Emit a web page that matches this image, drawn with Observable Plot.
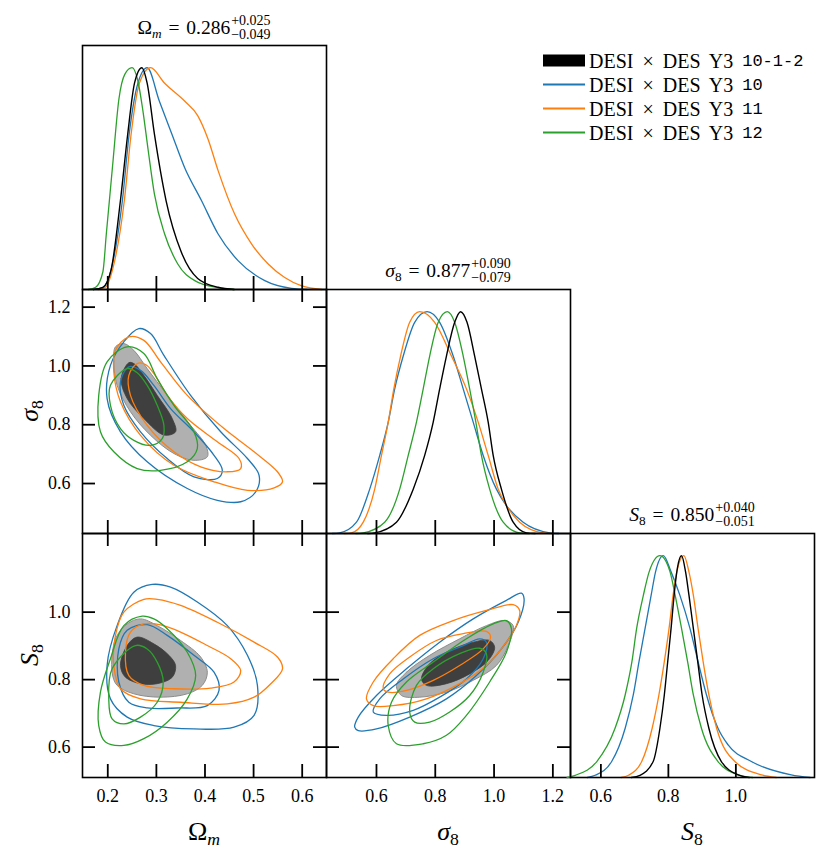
<!DOCTYPE html>
<html><head><meta charset="utf-8">
<script src="https://cdn.jsdelivr.net/npm/d3@7"></script>
<script src="https://cdn.jsdelivr.net/npm/@observablehq/plot@0.6"></script>
<style>
body{margin:0;background:#fff}
#root{position:relative;width:830px;height:859px;background:#fff;font-family:"Liberation Serif",serif;color:#000;overflow:hidden}
.abs{position:absolute;white-space:nowrap}
.ttl{display:flex;align-items:center;font-size:19.5px;transform:translate(-50%,-50%);word-spacing:2px}
.pm{display:inline-flex;flex-direction:column;font-size:14px;line-height:1.0;margin-left:1px}
.lab{font-size:26px;transform:translate(-50%,-50%)}
.ylab{font-size:26px;transform:translate(-50%,-50%) rotate(-90deg)}
.sb{font-size:0.68em;position:relative;top:0.3em}
.leg{font-size:20px;display:flex;align-items:center;transform:translateY(-50%);word-spacing:4px}
.sw{width:42px;margin-right:4px}
.mono{font-family:"Liberation Mono",monospace;font-size:17px;margin-left:9px}
</style></head>
<body><div id="root"></div>
<script>
// ---------- tick values ----------
const omTicks = [0.2, 0.3, 0.4, 0.5, 0.6];
const s8Ticks = [0.6, 0.8, 1.0, 1.2];   // sigma_8
const S8Ticks = [0.6, 0.8, 1.0];        // S_8
const omDomain = [0.148, 0.650];
const s8Domain = [0.43, 1.26];
const S8Domain = [0.51, 1.233];
const dDomain = [0, 1.1];

// ---------- series ----------
const seriesNames = ["DESI × DES Y3", "DESI × DES Y3", "DESI × DES Y3", "DESI × DES Y3"];
const seriesTags = ["10-1-2", "10", "11", "12"];
const seriesColors = ["#000000", "#1f77b4", "#ff7f0e", "#2ca02c"];

// ---------- 1D marginals [value, density] ----------
const om1dBlack = [[0.17,0],[0.19,0.01],[0.207,0.09],[0.226,0.40],[0.241,0.70],[0.255,0.93],[0.270,1.0],[0.281,0.93],[0.296,0.70],[0.320,0.40],[0.351,0.17],[0.385,0.05],[0.427,0.01],[0.46,0]];
const om1dBlue = [[0.17,0],[0.19,0.01],[0.208,0.10],[0.230,0.40],[0.244,0.70],[0.262,0.93],[0.281,1.0],[0.306,0.85],[0.332,0.70],[0.358,0.55],[0.393,0.40],[0.427,0.25],[0.468,0.13],[0.523,0.04],[0.578,0.005],[0.61,0]];
const om1dOrange = [[0.18,0],[0.195,0.01],[0.211,0.10],[0.234,0.40],[0.248,0.70],[0.265,0.93],[0.288,1.0],[0.317,0.93],[0.358,0.85],[0.385,0.784],[0.406,0.68],[0.427,0.536],[0.461,0.34],[0.496,0.205],[0.530,0.115],[0.564,0.054],[0.599,0.016],[0.64,0]];
const om1dGreen = [[0.16,0],[0.175,0.01],[0.19,0.08],[0.197,0.25],[0.210,0.56],[0.223,0.86],[0.235,0.97],[0.250,1.0],[0.262,0.94],[0.272,0.81],[0.283,0.63],[0.296,0.43],[0.317,0.25],[0.344,0.115],[0.379,0.04],[0.427,0.008],[0.46,0]];

const s81dBlack = [[0.57,0],[0.594,0.003],[0.668,0.051],[0.725,0.2],[0.764,0.352],[0.793,0.502],[0.815,0.652],[0.838,0.80],[0.866,0.952],[0.886,1.0],[0.908,0.952],[0.934,0.80],[0.957,0.652],[0.980,0.502],[0.997,0.352],[1.025,0.2],[1.065,0.051],[1.110,0.003],[1.14,0]];
const s81dBlue = [[0.45,0],[0.475,0.003],[0.532,0.051],[0.577,0.2],[0.611,0.352],[0.640,0.502],[0.662,0.652],[0.691,0.80],[0.730,0.952],[0.772,1.0],[0.815,0.952],[0.861,0.80],[0.895,0.652],[0.929,0.502],[0.963,0.352],[1.008,0.2],[1.042,0.126],[1.099,0.051],[1.19,0.003],[1.22,0]];
const s81dOrange = [[0.49,0],[0.515,0.003],[0.555,0.051],[0.594,0.2],[0.617,0.352],[0.640,0.502],[0.659,0.652],[0.682,0.80],[0.713,0.952],[0.747,1.0],[0.798,0.952],[0.855,0.80],[0.906,0.652],[0.946,0.502],[0.980,0.352],[1.014,0.2],[1.042,0.126],[1.087,0.051],[1.167,0.003],[1.2,0]];
const s81dGreen = [[0.53,0],[0.555,0.003],[0.628,0.051],[0.679,0.2],[0.708,0.352],[0.736,0.502],[0.759,0.652],[0.781,0.80],[0.810,0.952],[0.841,1.0],[0.866,0.952],[0.895,0.80],[0.917,0.652],[0.938,0.502],[0.957,0.352],[0.985,0.2],[1.031,0.051],[1.087,0.003],[1.12,0]];

const S81dBlack = [[0.69,0],[0.716,0.01],[0.755,0.072],[0.775,0.222],[0.788,0.372],[0.798,0.522],[0.808,0.672],[0.817,0.822],[0.825,0.927],[0.839,1.0],[0.851,0.927],[0.861,0.822],[0.874,0.672],[0.887,0.522],[0.900,0.372],[0.920,0.222],[0.957,0.072],[1.007,0.012],[1.04,0]];
const S81dBlue = [[0.56,0],[0.583,0.01],[0.632,0.072],[0.672,0.222],[0.696,0.372],[0.713,0.522],[0.731,0.672],[0.749,0.822],[0.762,0.927],[0.785,1.0],[0.808,0.927],[0.834,0.822],[0.864,0.672],[0.888,0.522],[0.913,0.372],[0.947,0.222],[0.977,0.147],[1.046,0.072],[1.164,0.012],[1.22,0]];
const S81dOrange = [[0.66,0],[0.682,0.01],[0.721,0.072],[0.752,0.222],[0.772,0.372],[0.788,0.522],[0.802,0.672],[0.814,0.822],[0.825,0.927],[0.846,1.0],[0.861,0.927],[0.874,0.822],[0.888,0.672],[0.903,0.522],[0.920,0.372],[0.943,0.222],[0.997,0.072],[1.076,0.012],[1.12,0]];
const S81dGreen = [[0.50,0],[0.524,0.01],[0.588,0.072],[0.642,0.222],[0.672,0.372],[0.692,0.522],[0.706,0.672],[0.726,0.822],[0.743,0.927],[0.775,1.0],[0.805,0.927],[0.820,0.822],[0.839,0.672],[0.857,0.522],[0.874,0.372],[0.898,0.222],[0.947,0.072],[1.007,0.012],[1.05,0]];

// ---------- 2D contours: sigma_8 vs Omega_m [Om, s8] ----------
const omS8BlackOut = [[0.2158,1.065],[0.2124,1.014],[0.2192,0.934],[0.2467,0.844],[0.2880,0.764],[0.3361,0.702],[0.3773,0.679],[0.4048,0.691],[0.4014,0.730],[0.3704,0.798],[0.3223,0.900],[0.2811,0.991],[0.2536,1.053],[0.2330,1.076]];
const omS8BlackIn = [[0.2433,1.011],[0.2275,0.957],[0.2399,0.889],[0.2742,0.821],[0.3155,0.765],[0.3395,0.776],[0.3326,0.821],[0.3017,0.900],[0.2742,0.968],[0.2536,1.008]];
const omS8BlueOut = [[0.2639,1.127],[0.2330,1.082],[0.2055,1.002],[0.1986,0.889],[0.2261,0.776],[0.2811,0.674],[0.3636,0.583],[0.4254,0.543],[0.4735,0.538],[0.5045,0.572],[0.5113,0.628],[0.4873,0.685],[0.4323,0.776],[0.3704,0.900],[0.3155,1.036],[0.2880,1.110]];
const omS8BlueIn = [[0.2433,0.997],[0.2261,0.946],[0.2330,0.866],[0.2674,0.776],[0.3223,0.685],[0.3773,0.623],[0.4254,0.617],[0.4357,0.645],[0.4186,0.696],[0.3773,0.776],[0.3292,0.855],[0.2948,0.934],[0.2674,0.985]];
const omS8OrangeOut = [[0.2433,1.099],[0.2158,1.053],[0.2124,0.980],[0.2261,0.878],[0.2674,0.764],[0.3361,0.662],[0.4186,0.606],[0.4873,0.577],[0.5423,0.585],[0.5595,0.606],[0.5491,0.640],[0.5010,0.708],[0.4392,0.787],[0.3636,0.900],[0.3086,1.014],[0.2742,1.087]];
const omS8OrangeIn = [[0.2605,1.008],[0.2433,0.968],[0.2467,0.900],[0.2811,0.798],[0.3361,0.708],[0.3911,0.657],[0.4460,0.640],[0.4735,0.651],[0.4701,0.685],[0.4254,0.742],[0.3636,0.821],[0.3223,0.900],[0.2948,0.974],[0.2777,1.005]];
const omS8GreenOut = [[0.2399,1.065],[0.1986,1.014],[0.1814,0.900],[0.1849,0.776],[0.2124,0.708],[0.2605,0.651],[0.3086,0.645],[0.3636,0.674],[0.3842,0.719],[0.3773,0.776],[0.3361,0.866],[0.3017,0.957],[0.2742,1.042]];
const omS8GreenIn = [[0.2399,0.991],[0.2055,0.934],[0.2055,0.866],[0.2261,0.787],[0.2536,0.747],[0.2880,0.730],[0.3120,0.753],[0.3155,0.798],[0.3017,0.866],[0.2811,0.934],[0.2605,0.977]];

// ---------- 2D contours: S_8 vs Omega_m [Om, S8] ----------
const omSS8BlackOut = [[0.2089,0.822],[0.2158,0.921],[0.2399,0.965],[0.2674,0.980],[0.3017,0.960],[0.3498,0.916],[0.3911,0.867],[0.4048,0.822],[0.3945,0.783],[0.3636,0.758],[0.3086,0.748],[0.2536,0.758],[0.2192,0.783]];
const omSS8BlackIn = [[0.2261,0.842],[0.2399,0.901],[0.2605,0.926],[0.2948,0.906],[0.3258,0.872],[0.3395,0.842],[0.3326,0.807],[0.3017,0.788],[0.2674,0.788],[0.2364,0.807]];
const omSS8BlueOut = [[0.2914,1.082],[0.2536,1.059],[0.2192,0.960],[0.1986,0.842],[0.2055,0.743],[0.2399,0.689],[0.2948,0.664],[0.3773,0.654],[0.4598,0.659],[0.5010,0.694],[0.5079,0.783],[0.4873,0.872],[0.4460,0.960],[0.3842,1.030],[0.3292,1.074]];
const omSS8BlueIn = [[0.2811,0.963],[0.2399,0.946],[0.2227,0.891],[0.2227,0.793],[0.2433,0.733],[0.2811,0.716],[0.3430,0.716],[0.4048,0.723],[0.4289,0.768],[0.4186,0.822],[0.3773,0.872],[0.3223,0.931]];
const omSS8OrangeOut = [[0.2742,1.038],[0.2330,1.000],[0.2158,0.931],[0.2124,0.842],[0.2261,0.773],[0.2674,0.743],[0.3498,0.733],[0.4460,0.728],[0.5010,0.748],[0.5354,0.788],[0.5595,0.832],[0.5491,0.867],[0.5010,0.911],[0.4254,0.970],[0.3498,1.020],[0.3017,1.038]];
const omSS8OrangeIn = [[0.2742,0.965],[0.2467,0.941],[0.2364,0.881],[0.2433,0.812],[0.2742,0.783],[0.3361,0.773],[0.4117,0.775],[0.4598,0.793],[0.4735,0.827],[0.4529,0.862],[0.4048,0.901],[0.3498,0.941],[0.3086,0.962]];
const omSS8GreenOut = [[0.2708,0.988],[0.2330,0.960],[0.2055,0.862],[0.1849,0.763],[0.1814,0.664],[0.1952,0.615],[0.2330,0.605],[0.2742,0.625],[0.3223,0.674],[0.3636,0.743],[0.3808,0.812],[0.3636,0.881],[0.3223,0.951],[0.2948,0.980]];
const omSS8GreenIn = [[0.2570,0.901],[0.2089,0.832],[0.2021,0.743],[0.2089,0.684],[0.2330,0.669],[0.2674,0.689],[0.3017,0.733],[0.3141,0.793],[0.3017,0.852],[0.2811,0.891]];

// ---------- 2D contours: S_8 vs sigma_8 [s8, S8] ----------
const s8SS8BlackOut = [[0.668,0.783],[0.702,0.822],[0.781,0.872],[0.883,0.921],[0.974,0.960],[1.036,0.975],[1.065,0.960],[1.048,0.901],[1.008,0.842],[0.929,0.798],[0.838,0.763],[0.747,0.748],[0.685,0.753]];
const s8SS8BlackIn = [[0.753,0.802],[0.781,0.847],[0.849,0.886],[0.929,0.911],[0.985,0.916],[1.002,0.896],[0.980,0.857],[0.917,0.817],[0.838,0.788],[0.770,0.783]];
const s8SS8BlueOut = [[0.526,0.659],[0.538,0.689],[0.600,0.753],[0.702,0.832],[0.815,0.911],[0.929,0.980],[1.042,1.035],[1.093,1.056],[1.102,1.040],[1.082,0.970],[1.025,0.891],[0.940,0.812],[0.838,0.743],[0.713,0.689],[0.600,0.654],[0.538,0.649]];
const s8SS8BlueIn = [[0.589,0.704],[0.611,0.743],[0.691,0.802],[0.793,0.862],[0.895,0.901],[0.951,0.921],[0.974,0.911],[0.963,0.862],[0.906,0.802],[0.815,0.748],[0.725,0.709],[0.634,0.694]];
const s8SS8OrangeOut = [[0.566,0.743],[0.589,0.793],[0.657,0.862],[0.747,0.931],[0.861,0.975],[0.974,1.005],[1.065,1.022],[1.087,1.005],[1.076,0.960],[1.042,0.911],[0.974,0.842],[0.883,0.788],[0.770,0.743],[0.657,0.723],[0.589,0.723]];
const s8SS8OrangeIn = [[0.623,0.773],[0.645,0.817],[0.713,0.867],[0.804,0.916],[0.895,0.936],[0.974,0.943],[0.988,0.926],[0.963,0.891],[0.883,0.842],[0.793,0.798],[0.702,0.768],[0.640,0.763]];
const s8SS8GreenOut = [[0.640,0.664],[0.651,0.733],[0.702,0.793],[0.793,0.852],[0.906,0.921],[0.997,0.965],[1.042,0.975],[1.059,0.951],[1.042,0.881],[0.985,0.793],[0.906,0.694],[0.838,0.635],[0.759,0.610],[0.668,0.610]];
const s8SS8GreenIn = [[0.713,0.704],[0.736,0.783],[0.793,0.832],[0.883,0.877],[0.951,0.893],[0.974,0.877],[0.963,0.822],[0.917,0.753],[0.849,0.704],[0.781,0.674],[0.730,0.674]];

// ---------- layout ----------
const root = document.getElementById("root");
const W = 244, TK = 13;
const colLeft = [82, 326, 570];
const rowTop = [45, 289, 533];
const fmt = d => d.toFixed(1);
const px = d => d[0], py = d => d[1];

function mount(svg, left, top) {
  svg.style.position = "absolute";
  svg.style.left = left + "px";
  svg.style.top = top + "px";
  svg.style.overflow = "visible";
  svg.style.background = "transparent";
  svg.style.fontFamily = '"Liberation Serif", serif';
  svg.style.fontSize = "18px";
  root.appendChild(svg);
}
function tickMarks(xT, yT, twoD) {
  const o = {stroke: "#000", strokeWidth: 1.8};
  const m = [Plot.tickX(xT, {x: d => d, insetTop: W - TK, ...o})];
  if (twoD) {
    m.push(Plot.tickX(xT, {x: d => d, insetBottom: W - TK, ...o}));
    m.push(Plot.tickY(yT, {y: d => d, insetRight: W - TK, ...o}));
    m.push(Plot.tickY(yT, {y: d => d, insetLeft: W - TK, ...o}));
  }
  m.push(Plot.frame({stroke: "#000", strokeWidth: 1.6}));
  return m;
}
function curve1d(d, c) {
  return Plot.line(d, {x: px, y: py, stroke: c, strokeWidth: c === "#000000" ? 1.4 : 1.3, curve: "monotone-x"});
}
function filled(out, inn) {
  return [
    Plot.line(out, {x: px, y: py, curve: "catmull-rom-closed", fill: "#b0b0b0", stroke: "#8c8c8c", strokeWidth: 1}),
    Plot.line(inn, {x: px, y: py, curve: "catmull-rom-closed", fill: "#3f3f3f", stroke: "#3f3f3f", strokeWidth: 0.8})
  ];
}
function cline(d, c) {
  return Plot.line(d, {x: px, y: py, curve: "catmull-rom-closed", stroke: c, strokeWidth: 1.3});
}
function panel(col, row, xDomain, yDomain, marks) {
  const svg = Plot.plot({
    width: W, height: W, margin: 0,
    x: {domain: xDomain, axis: null},
    y: {domain: yDomain, axis: null},
    marks
  });
  mount(svg, colLeft[col], rowTop[row]);
}
const [cK, cB, cO, cG] = seriesColors;

// Omega_m 1D
panel(0, 0, omDomain, dDomain, [
  curve1d(om1dBlue, cB), curve1d(om1dOrange, cO), curve1d(om1dGreen, cG), curve1d(om1dBlack, cK),
  ...tickMarks(omTicks, [], false)
]);
// sigma_8 vs Omega_m
panel(0, 1, omDomain, s8Domain, [
  ...filled(omS8BlackOut, omS8BlackIn),
  cline(omS8BlueOut, cB), cline(omS8BlueIn, cB),
  cline(omS8OrangeOut, cO), cline(omS8OrangeIn, cO),
  cline(omS8GreenOut, cG), cline(omS8GreenIn, cG),
  ...tickMarks(omTicks, s8Ticks, true),
  Plot.axisY({ticks: s8Ticks, anchor: "left", tickSize: 0, tickPadding: 12, tickFormat: fmt, label: null})
]);
// sigma_8 1D
panel(1, 1, s8Domain, dDomain, [
  curve1d(s81dBlue, cB), curve1d(s81dOrange, cO), curve1d(s81dGreen, cG), curve1d(s81dBlack, cK),
  ...tickMarks(s8Ticks, [], false)
]);
// S_8 vs Omega_m
panel(0, 2, omDomain, S8Domain, [
  ...filled(omSS8BlackOut, omSS8BlackIn),
  cline(omSS8BlueOut, cB), cline(omSS8BlueIn, cB),
  cline(omSS8OrangeOut, cO), cline(omSS8OrangeIn, cO),
  cline(omSS8GreenOut, cG), cline(omSS8GreenIn, cG),
  ...tickMarks(omTicks, S8Ticks, true),
  Plot.axisY({ticks: S8Ticks, anchor: "left", tickSize: 0, tickPadding: 12, tickFormat: fmt, label: null}),
  Plot.axisX({ticks: omTicks, anchor: "bottom", tickSize: 0, tickPadding: 12, tickFormat: fmt, label: null})
]);
// S_8 vs sigma_8
panel(1, 2, s8Domain, S8Domain, [
  ...filled(s8SS8BlackOut, s8SS8BlackIn),
  cline(s8SS8BlueOut, cB), cline(s8SS8BlueIn, cB),
  cline(s8SS8OrangeOut, cO), cline(s8SS8OrangeIn, cO),
  cline(s8SS8GreenOut, cG), cline(s8SS8GreenIn, cG),
  ...tickMarks(s8Ticks, S8Ticks, true),
  Plot.axisX({ticks: s8Ticks, anchor: "bottom", tickSize: 0, tickPadding: 12, tickFormat: fmt, label: null})
]);
// S_8 1D
panel(2, 2, S8Domain, dDomain, [
  curve1d(S81dBlue, cB), curve1d(S81dOrange, cO), curve1d(S81dGreen, cG), curve1d(S81dBlack, cK),
  ...tickMarks(S8Ticks, [], false),
  Plot.axisX({ticks: S8Ticks, anchor: "bottom", tickSize: 0, tickPadding: 12, tickFormat: fmt, label: null})
]);

// ---------- text ----------
function addHTML(cls, html, left, top) {
  const el = document.createElement("div");
  el.className = "abs " + cls;
  el.style.left = left + "px";
  el.style.top = top + "px";
  el.innerHTML = html;
  root.appendChild(el);
}
const titles = [
  {sym: "Ω<span class='sb'><i>m</i></span>", val: "0.286", up: "+0.025", dn: "−0.049", x: 204, y: 28},
  {sym: "<i>σ</i><span class='sb'>8</span>", val: "0.877", up: "+0.090", dn: "−0.079", x: 448, y: 271},
  {sym: "<i>S</i><span class='sb'>8</span>", val: "0.850", up: "+0.040", dn: "−0.051", x: 692, y: 515}
];
for (const t of titles) {
  addHTML("ttl", `<span>${t.sym} = ${t.val}</span><span class="pm"><span>${t.up}</span><span>${t.dn}</span></span>`, t.x, t.y);
}
const axisLabels = [
  {html: "Ω<span class='sb'><i>m</i></span>", x: 204, y: 832, cls: "lab"},
  {html: "<i>σ</i><span class='sb'>8</span>", x: 448, y: 832, cls: "lab"},
  {html: "<i>S</i><span class='sb'>8</span>", x: 692, y: 832, cls: "lab"},
  {html: "<i>σ</i><span class='sb'>8</span>", x: 30, y: 411, cls: "ylab"},
  {html: "<i>S</i><span class='sb'>8</span>", x: 30, y: 655, cls: "ylab"}
];
for (const a of axisLabels) addHTML(a.cls, a.html, a.x, a.y);

// legend
const legendY = [60.5, 84.5, 108.5, 132.5];
seriesNames.forEach((name, i) => {
  const sw = i === 0
    ? `<span class="sw" style="height:12.5px;background:${seriesColors[i]}"></span>`
    : `<span class="sw" style="height:1.5px;background:${seriesColors[i]}"></span>`;
  addHTML("leg", `${sw}<span>${name}</span><span class="mono">${seriesTags[i]}</span>`, 543, legendY[i]);
});
</script>
</body></html>
